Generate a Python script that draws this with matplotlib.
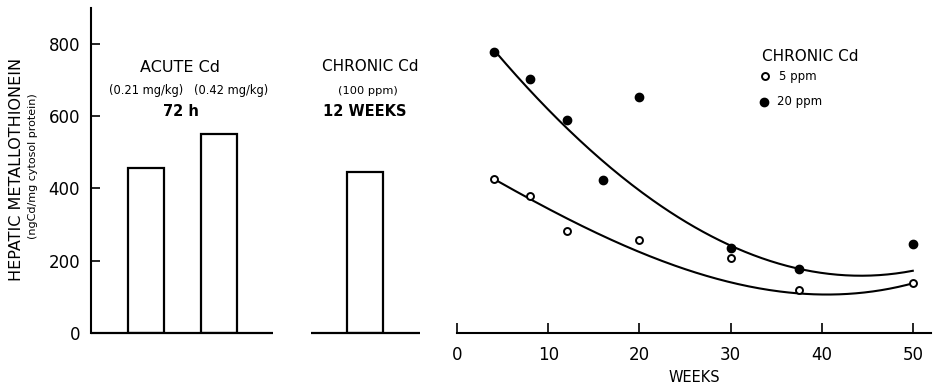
import numpy as np
import matplotlib
matplotlib.use("Agg")
import matplotlib.pyplot as plt

plt.rcParams['font.family'] = ['DejaVu Sans']

# left panel: bar heights (ng Cd / mg cytosol protein)
bar_pos = [1, 2, 4]
bar_vals = [456, 550, 446]

# right panel: chronic exposure, weeks vs metallothionein
weeks_5 = [4, 8, 12, 20, 30, 37.5, 50]
mt_5 = [427, 380, 283, 257, 207, 119, 139]
weeks_20 = [4, 8, 12, 16, 20, 30, 37.5, 50]
mt_20 = [778, 703, 589, 422, 654, 236, 178, 245]

# trend curves
curve20_w = [4.2, 8.2, 12.1, 16.0, 20.0, 22.2, 29.9, 37.4, 43.8, 50]
curve20_v = [775, 665, 575, 469, 391, 354, 243, 179, 160, 171]
curve5_w = [4.0, 8.2, 12.2, 17.1, 20.0, 21.5, 29.9, 37.4, 41.3, 45.6, 50]
curve5_v = [423, 373, 317, 257, 213, 207, 151, 110, 102, 114, 139]

fig = plt.figure(figsize=(9.35, 3.86), dpi=100)
bottom = 53 / 386
height = (333 - 7.6) / 386

# ---- left panel (bars)
ax1 = fig.add_axes([91 / 935, bottom, 329 / 935, height])
ax1.bar(bar_pos, bar_vals, width=0.5, facecolor='white', edgecolor='black', linewidth=1.6)
ax1.set_xlim(0.247, 4.75)
ax1.set_ylim(0, 900)
for s in ['top', 'right', 'bottom']:
    ax1.spines[s].set_visible(False)
ax1.spines['left'].set_linewidth(1.5)
ax1.hlines(0, 0.247, 2.74, color='black', linewidth=1.6, clip_on=False)
ax1.hlines(0, 3.26, 4.75, color='black', linewidth=1.6, clip_on=False)
ax1.set_xticks([])
ax1.set_yticks([0, 200, 400, 600, 800])
ax1.tick_params(axis='y', direction='in', length=6.5, width=1.2, pad=8, labelsize=12)

ax1.text(1.47, 734, 'ACUTE Cd', ha='center', va='center', fontsize=11.5)
ax1.text(1.0, 670, '(0.21 mg/kg)', ha='center', va='center', fontsize=8.3)
ax1.text(2.16, 670, '(0.42 mg/kg)', ha='center', va='center', fontsize=8.3)
ax1.text(1.48, 612, '72 h', ha='center', va='center', fontsize=10.5, fontweight='bold')
ax1.text(4.07, 737, 'CHRONIC Cd', ha='center', va='center', fontsize=11)
ax1.text(4.03, 670, '(100 ppm)', ha='center', va='center', fontsize=8.2)
ax1.text(4.0, 612, '12 WEEKS', ha='center', va='center', fontsize=10.5, fontweight='bold')

fig.text(17 / 935, 1 - 169 / 386, 'HEPATIC METALLOTHIONEIN', rotation=90,
         ha='center', va='center', fontsize=11.5)
fig.text(33 / 935, 1 - 166 / 386, '(ngCd/mg cytosol protein)', rotation=90,
         ha='center', va='center', fontsize=8)

# ---- right panel (time course)
ax2 = fig.add_axes([457.3 / 935, bottom, (931 - 457.3) / 935, height])
ax2.set_xlim(0, 52)
ax2.set_ylim(0, 900)
for s in ['top', 'right', 'left']:
    ax2.spines[s].set_visible(False)
ax2.spines['bottom'].set_linewidth(1.5)
ax2.set_yticks([])
ax2.set_xticks([0, 10, 20, 30, 40, 50])
ax2.tick_params(axis='x', direction='in', length=7, width=1.2, pad=9, labelsize=12)
ax2.set_xlabel('WEEKS', fontsize=10.5, labelpad=5)

c20 = np.polyfit(curve20_w, curve20_v, 3)
c5 = np.polyfit(curve5_w, curve5_v, 3)
w20 = np.linspace(curve20_w[0], curve20_w[-1], 200)
w5 = np.linspace(curve5_w[0], curve5_w[-1], 200)
ax2.plot(w20, np.polyval(c20, w20), color='black', linewidth=1.5)
ax2.plot(w5, np.polyval(c5, w5), color='black', linewidth=1.5)

ax2.plot(weeks_20, mt_20, 'o', color='black', markersize=6)
ax2.plot(weeks_5, mt_5, 'o', markerfacecolor='white', markeredgecolor='black',
         markeredgewidth=1.4, markersize=5)

# legend drawn as text, like the original
ax2.text(33.4, 766, 'CHRONIC Cd', ha='left', va='center', fontsize=11)
ax2.plot([33.8], [710], 'o', markerfacecolor='white', markeredgecolor='black',
         markeredgewidth=1.4, markersize=5)
ax2.text(35.3, 710, '5 ppm', ha='left', va='center', fontsize=8.5)
ax2.plot([33.7], [640], 'o', color='black', markersize=6)
ax2.text(35.1, 640, '20 ppm', ha='left', va='center', fontsize=8.5)

fig.savefig('out.png', dpi=100)
